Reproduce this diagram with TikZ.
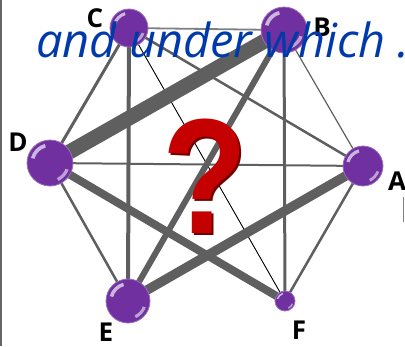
\documentclass[tikz,border=0pt]{standalone}
\usepackage{fontspec}
\setmainfont{Open Sans}
\newfontfamily\qfont[FakeStretch=0.85]{Liberation Sans}
\usetikzlibrary{backgrounds}
\definecolor{ballpurple}{RGB}{112,48,160}
\definecolor{edgegray}{RGB}{95,95,95}
\definecolor{textblue}{RGB}{0,58,170}
\definecolor{qred}{RGB}{196,0,0}
\definecolor{qdark}{RGB}{115,0,0}
\tikzset{
  ball/.style={circle, inner sep=0pt, minimum size={2*#1pt}, fill=ballpurple,
    draw=ballpurple!70!white, line width=0.8pt,
    path picture={
      \fill[white, opacity=0.65] (path picture bounding box.center) ++(105:0.86*#1)
        arc[start angle=105, end angle=165, radius={0.86*#1pt}]
        -- ++(165:-0.16*#1)
        arc[start angle=165, end angle=105, radius={0.7*#1pt}] -- cycle;
      \fill[white, opacity=0.55] (path picture bounding box.center) ++(-20:0.86*#1)
        arc[start angle=-20, end angle=-65, radius={0.86*#1pt}]
        -- ++(-65:-0.14*#1)
        arc[start angle=-65, end angle=-20, radius={0.72*#1pt}] -- cycle;
    }},
  link/.style={draw=edgegray, line width=#1pt},
  vlabel/.style={font=\bfseries\fontsize{26}{26}\selectfont, inner sep=0pt},
  qmark/.style={font=\qfont\bfseries\fontsize{164}{164}\selectfont, inner sep=0pt}
}

\begin{document}
\begin{tikzpicture}[x=1pt,y=1pt]
\useasboundingbox (0,0) rectangle (405,-346);
\draw[gray!80!black, line width=2pt] (1,0) -- (1,-346);
\draw[gray, line width=1pt] (403.5,-197) -- (403.5,-222);

% the six balls
\node[ball=19] (C) at (129,-28) {};
\node[ball=23] (B) at (284,-30) {};
\node[ball=23] (D) at (50,-163) {};
\node[ball=20] (A) at (363,-166) {};
\node[ball=22] (E) at (128,-301) {};
\node[ball=10] (F) at (285,-301) {};

\node[vlabel] (lC) at (95,-18) {C};
\node[vlabel] (lB) at (322,-27) {B};
\node[vlabel] (lD) at (18,-142) {D};
\node[vlabel] (lA) at (397,-181) {A};
\node[vlabel] (lE) at (106,-332) {E};
\node[vlabel] (lF) at (299,-330) {F};

\begin{pgfonlayer}{background}
\draw[link=1.8, draw=edgegray!80!white] (C.center) -- (B.center);
\draw[link=4] (C.center) -- (E.center);
\draw[link=3] (C.center) -- (D.center);
\draw[black, line width=0.9pt] (C.center) -- (F.center);
\draw[link=2.5] (C.center) -- (A.center);
\draw[link=15] (B.center) -- (D.center);
\draw[link=6] (B.center) -- (E.center);
\draw[link=3] (B.center) -- (F.center);
\draw[link=1.2] (B.center) -- (A.center);
\draw[link=2] (D.center) -- (A.center);
\draw[link=8] (D.center) -- (F.center);
\draw[link=2.5] (D.center) -- (E.center);
\draw[link=9.5] (A.center) -- (E.center);
\draw[link=2.5] (A.center) -- (F.center);
\end{pgfonlayer}

% question mark with its dark side
\node[qmark, text=qdark] (qs) at (207,-178) {?};
\node[qmark, text=qred] (q) at (205,-176) {?};

\node[anchor=base west, inner sep=0pt, text=textblue,
  font=\itshape\fontsize{47}{47}\selectfont] (title) at (36,-57) {and under which .};
\end{tikzpicture}
\end{document}
